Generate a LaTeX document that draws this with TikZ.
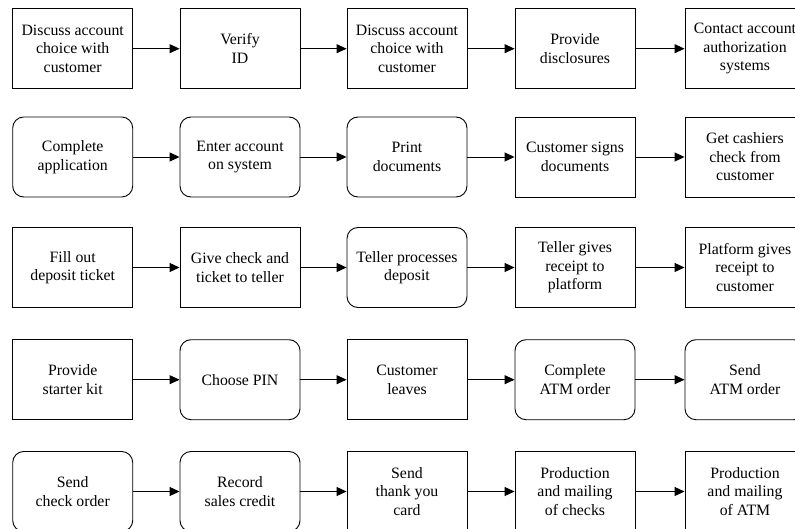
\documentclass[tikz,border=0pt]{standalone}
\usepackage{fontspec}
\setmainfont{Liberation Serif}
\usetikzlibrary{arrows.meta}
\begin{document}
\begin{tikzpicture}[x=1pt,y=-1pt,
  box/.style={draw=black,line width=0.9pt,rectangle,minimum width=120pt,minimum height=80pt,
    inner sep=0pt,align=center,font=\fontsize{15.8}{18.5}\selectfont},
  sq/.style={box},
  rd/.style={box,rounded corners=11pt},
  arr/.style={line width=0.9pt,-{Triangle[length=10pt,width=9pt]}}]
\clip (0,0) rectangle (795,529);
\fill[white] (0,0) rectangle (795,529);
% row 1
\node[sq] (a1) at (72.7,48.7) {Discuss account\\choice with\\customer};
\node[sq] (a2) at (240,48.7) {Verify\\ID};
\node[sq] (a3) at (407,48.7) {Discuss account\\choice with\\customer};
\node[sq] (a4) at (575,48.7) {Provide\\disclosures};
\node[sq] (a5) at (745,48.7) {Contact account\\authorization\\systems};
% row 2
\node[rd] (b1) at (72.7,157) {Complete\\application};
\node[rd] (b2) at (240,157) {Enter account\\on system};
\node[rd] (b3) at (407,157) {Print\\documents};
\node[sq] (b4) at (575,157) {Customer signs\\documents};
\node[sq] (b5) at (745,157) {Get cashiers\\check from\\customer};
% row 3
\node[sq] (c1) at (72.7,267.5) {Fill out\\deposit ticket};
\node[sq] (c2) at (240,267.5) {Give check and\\ticket to teller};
\node[rd] (c3) at (407,267.5) {Teller processes\\deposit};
\node[sq] (c4) at (575,267.5) {Teller gives\\receipt to\\platform};
\node[sq] (c5) at (745,267.5) {Platform gives\\receipt to\\customer};
% row 4
\node[sq] (d1) at (72.7,379.7) {Provide\\starter kit};
\node[rd] (d2) at (240,379.7) {Choose PIN};
\node[sq] (d3) at (407,379.7) {Customer\\leaves};
\node[rd] (d4) at (575,379.7) {Complete\\ATM order};
\node[rd] (d5) at (745,379.7) {Send\\ATM order};
% row 5
\node[rd] (e1) at (72.7,491.5) {Send\\check order};
\node[rd] (e2) at (240,491.5) {Record\\sales credit};
\node[sq] (e3) at (407,491.5) {Send\\thank you\\card};
\node[sq] (e4) at (575,491.5) {Production\\and mailing\\of checks};
\node[sq] (e5) at (745,491.5) {Production\\and mailing\\of ATM};
\foreach \r in {a,b,c,d,e}{
  \draw[arr] (\r1) -- (\r2);
  \draw[arr] (\r2) -- (\r3);
  \draw[arr] (\r3) -- (\r4);
  \draw[arr] (\r4) -- (\r5);
}
\end{tikzpicture}
\end{document}
